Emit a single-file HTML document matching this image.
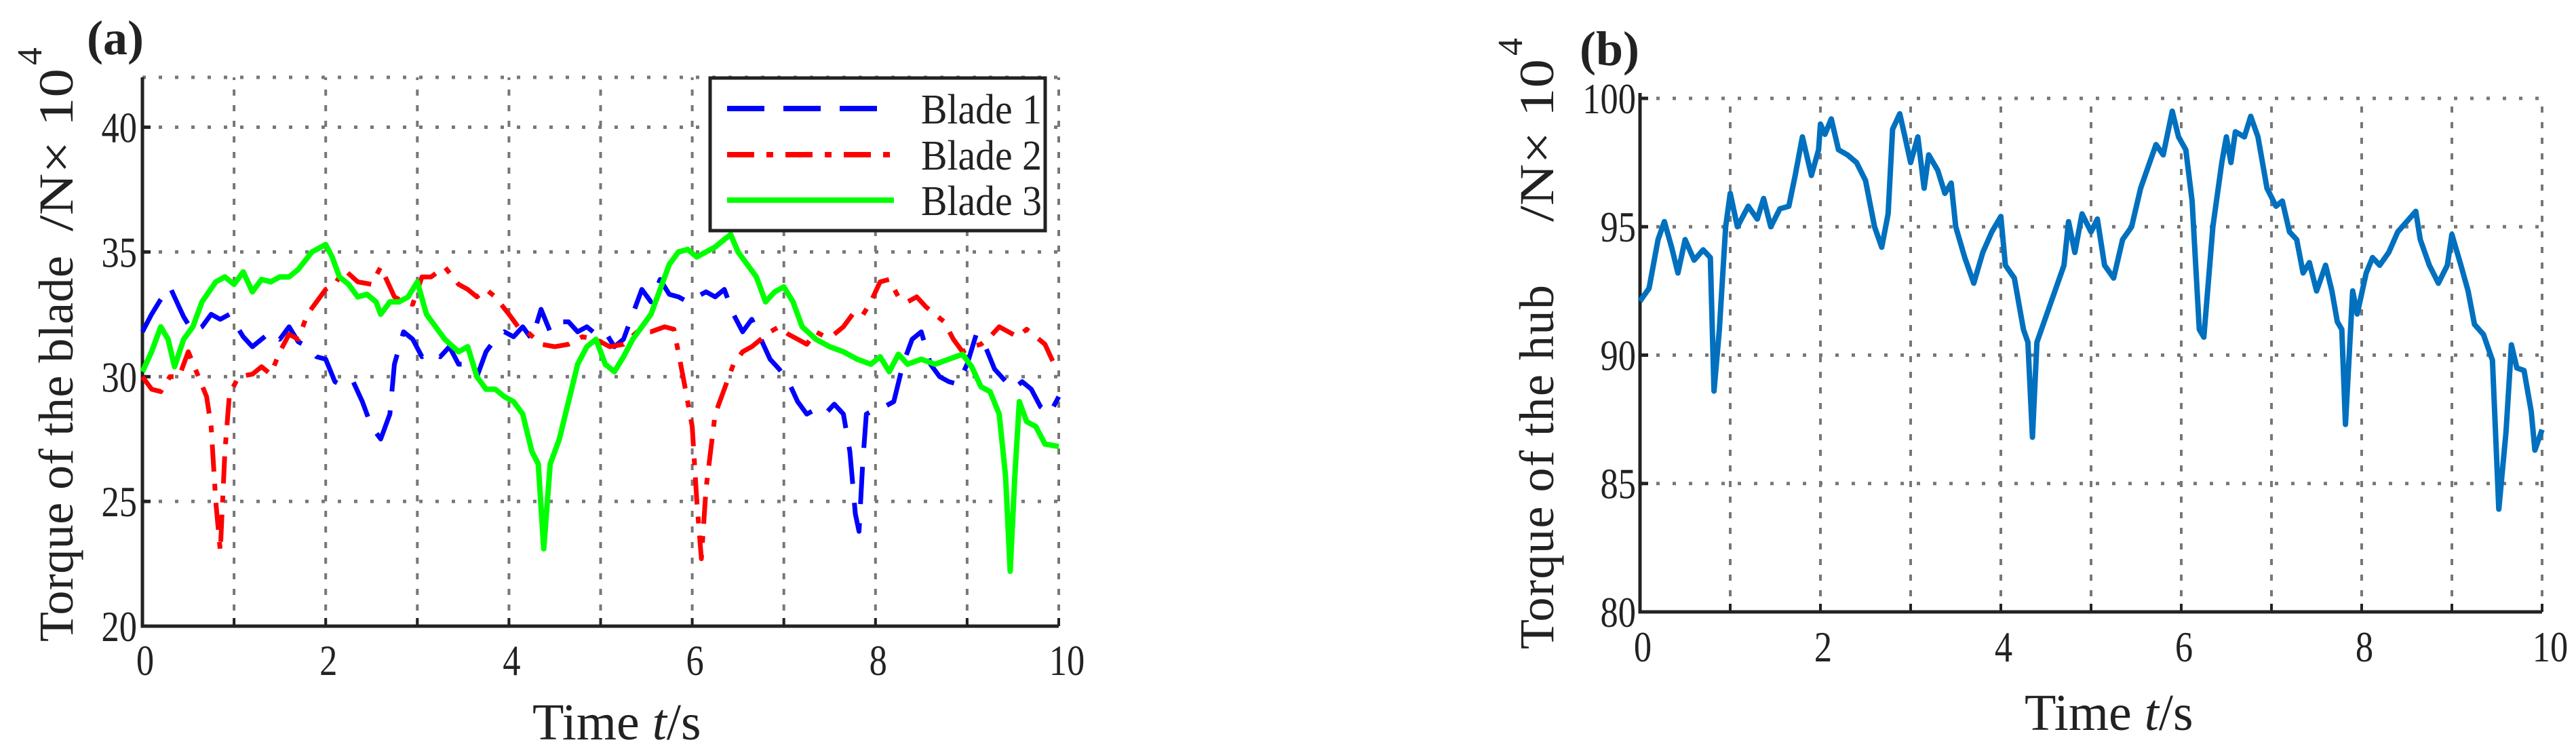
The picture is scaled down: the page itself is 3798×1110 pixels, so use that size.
<!DOCTYPE html>
<html><head><meta charset="utf-8"><style>
html,body{margin:0;padding:0;background:#fff;}
svg{display:block;}
text{font-family:"Liberation Serif",serif;fill:#222;}
</style></head><body>
<svg id="fig" width="3798" height="1110" viewBox="0 0 3798 1110" xmlns="http://www.w3.org/2000/svg">
<g id="panelA"></g>
<g id="panelB"></g>
</svg>
<script>
// ---- Panel (a) data ----
const tBlade1 = [0,0.1,0.2,0.3,0.4,0.45,0.55,0.65,0.75,0.85,0.95,1.1,1.2,1.3,1.4,1.5,1.6,1.7,1.8,1.9,2.0,2.1,2.2,2.3,2.4,2.5,2.6,2.7,2.75,2.85,2.95,3.05,3.15,3.25,3.35,3.45,3.55,3.65,3.75,3.85,3.95,4.05,4.15,4.25,4.35,4.45,4.55,4.65,4.75,4.85,4.95,5.05,5.15,5.25,5.35,5.45,5.55,5.65,5.75,5.85,5.95,6.05,6.15,6.25,6.35,6.45,6.55,6.65,6.75,6.85,6.95,7.05,7.15,7.25,7.35,7.45,7.55,7.65,7.72,7.78,7.82,7.86,7.9,8.0,8.1,8.2,8.3,8.4,8.5,8.6,8.7,8.8,8.9,9.0,9.1,9.2,9.3,9.4,9.5,9.6,9.7,9.8,9.9,10];
const blade1 = [31.8,32.5,33.1,33.6,32.8,32.4,31.8,32,32.5,32.3,32.5,31.6,31.2,31.5,31.8,31.5,32,31.4,31.2,30.8,30.7,29.8,29.6,29.8,29,28,27.5,28.5,30.5,31.8,31.5,30.8,31,30.8,31.2,30.5,30.5,30,31,31.5,31.8,31.6,32,31.5,32.7,31.8,32.2,32.2,31.8,32,31.7,31.8,31.2,31.5,32.5,33.5,33,33.9,33.3,33.2,33,33.2,33.4,33.2,33.5,32.5,31.8,32.3,31.5,30.7,30.3,29.8,29,28.5,28.7,28.5,28.9,28.5,27,24.5,23.8,26.5,28.5,28.7,28.8,29,30.5,31.5,31.8,30.5,30,29.8,29.7,30.5,31.7,31.2,30.3,29.9,29.5,29.8,29.5,28.8,28.5,29.2];
const tBlade2 = [0,0.1,0.2,0.3,0.4,0.5,0.6,0.7,0.75,0.8,0.85,0.9,0.95,1.05,1.2,1.3,1.4,1.5,1.6,1.7,1.8,1.9,2.0,2.1,2.2,2.35,2.5,2.6,2.75,2.85,2.95,3.05,3.15,3.3,3.45,3.55,3.65,3.75,3.85,4.0,4.1,4.2,4.35,4.5,4.65,4.8,4.95,5.1,5.25,5.4,5.55,5.7,5.8,5.9,6.0,6.05,6.1,6.15,6.25,6.35,6.45,6.55,6.65,6.75,6.85,6.95,7.05,7.15,7.25,7.35,7.45,7.55,7.65,7.75,7.85,7.95,8.05,8.15,8.25,8.35,8.45,8.55,8.65,8.75,8.85,8.95,9.05,9.15,9.25,9.35,9.45,9.55,9.65,9.75,9.85,9.95,10];
const blade2 = [30,29.5,29.4,30,30,31,30.1,29.2,28,25,23,27,29.3,30,30.1,30.4,30.1,31,31.7,31.5,32.5,33,33.5,33.7,34.3,33.8,33.7,34.4,33.2,33,32.9,34,34,34.4,33.7,33.5,33.2,33.5,33.2,32.5,32,31.8,31.3,31.2,31.3,31.6,31.5,31.2,31.3,31.8,31.8,32,31.9,30,28,25,22.7,25.5,28.5,29.5,30.5,31,31.2,31.5,31.8,32,31.7,31.5,31.3,31.8,31.6,31.7,32,32.5,32.4,33,33.8,33.9,33.2,33,33.2,32.8,32.5,32.2,31.5,31,31.2,31.3,31.6,32,31.8,31.6,31.9,31.6,31.3,30.5,30.5];
const tBlade3 = [0,0.1,0.2,0.28,0.35,0.45,0.55,0.65,0.8,0.9,1.0,1.1,1.2,1.3,1.4,1.5,1.6,1.7,1.85,1.95,2.0,2.07,2.15,2.25,2.35,2.45,2.55,2.6,2.7,2.8,2.9,3.0,3.1,3.2,3.3,3.45,3.55,3.65,3.75,3.85,3.95,4.05,4.15,4.25,4.32,4.38,4.45,4.55,4.65,4.75,4.85,4.95,5.05,5.15,5.25,5.35,5.45,5.55,5.65,5.75,5.85,5.95,6.05,6.15,6.25,6.35,6.42,6.5,6.6,6.7,6.8,6.9,7.0,7.1,7.2,7.35,7.5,7.65,7.8,7.95,8.05,8.15,8.25,8.35,8.5,8.65,8.8,8.95,9.05,9.15,9.25,9.35,9.42,9.47,9.52,9.57,9.65,9.75,9.85,10];
const blade3 = [30.2,31,32,31.5,30.4,31.5,32,33,33.8,34,33.7,34.2,33.4,33.9,33.8,34,34,34.3,35,35.2,35.3,34.8,34,33.7,33.2,33.3,33,32.5,33,33,33.2,33.8,32.5,32,31.5,31,31.2,30,29.5,29.5,29.2,29,28.5,27,26.5,23.1,26.5,27.5,29,30.5,31.2,31.5,30.5,30.2,30.8,31.5,32,32.5,33.5,34.5,35,35.1,34.8,35,35.2,35.5,35.7,35,34.5,34,33,33.4,33.6,33,32,31.5,31.2,31,30.7,30.5,30.8,30.2,30.9,30.5,30.7,30.5,30.7,30.9,30.4,29.6,29.4,28.5,26,22.2,26,29,28.2,28,27.3,27.2];
const xTicksA = [0,2,4,6,8,10];
const yTicksA = [20,25,30,35,40];
const legendLabels = ["Blade 1","Blade 2","Blade 3"];

// ---- Panel (b) data ----
const tHub = [0,0.1,0.2,0.27,0.35,0.42,0.5,0.6,0.7,0.78,0.82,0.88,0.95,1.0,1.08,1.2,1.3,1.37,1.45,1.55,1.65,1.72,1.8,1.9,1.98,2.0,2.05,2.12,2.2,2.3,2.4,2.5,2.6,2.68,2.75,2.8,2.88,2.95,3.0,3.08,3.15,3.2,3.3,3.38,3.45,3.5,3.6,3.7,3.8,3.9,4.0,4.05,4.15,4.25,4.3,4.35,4.4,4.5,4.6,4.7,4.75,4.82,4.9,5.0,5.07,5.15,5.25,5.35,5.45,5.55,5.65,5.72,5.8,5.9,5.97,6.05,6.12,6.2,6.25,6.35,6.45,6.5,6.55,6.6,6.7,6.77,6.85,6.95,7.05,7.12,7.2,7.28,7.35,7.42,7.5,7.6,7.67,7.73,7.78,7.82,7.9,7.95,8.05,8.12,8.2,8.3,8.4,8.5,8.6,8.65,8.75,8.85,8.95,9.0,9.1,9.18,9.25,9.35,9.45,9.52,9.6,9.66,9.72,9.8,9.88,9.92,10];
const hub = [92.1,92.6,94.5,95.2,94.2,93.2,94.5,93.7,94.1,93.8,88.6,91,95,96.3,95,95.8,95.3,96.1,95,95.7,95.8,97,98.5,97,98,99,98.6,99.2,98,97.8,97.5,96.8,95,94.2,95.5,98.8,99.4,98.3,97.5,98.5,96.5,97.8,97.2,96.3,96.7,95,93.8,92.8,94,94.8,95.4,93.5,93,91,90.5,86.8,90.5,91.5,92.5,93.5,95.2,94,95.5,94.8,95.3,93.5,93,94.5,95,96.5,97.5,98.2,97.8,99.5,98.5,98,96,91,90.7,95,97.5,98.5,97.5,98.7,98.5,99.3,98.5,96.5,95.8,96,94.8,94.5,93.2,93.6,92.5,93.5,92.5,91.3,91,87.3,92.5,91.6,93.2,93.8,93.5,94,94.8,95.2,95.6,94.5,93.5,92.8,93.5,94.7,93.5,92.5,91.2,90.8,89.8,84,87,90.4,89.5,89.4,87.8,86.3,87.1];
const xTicksB = [0,2,4,6,8,10];
const yTicksB = [80,85,90,95,100];

const NS = "http://www.w3.org/2000/svg";
function mk(parent, tag, attrs, txt){
  const e = document.createElementNS(NS, tag);
  for (const k in attrs) e.setAttribute(k, attrs[k]);
  if (txt !== undefined) e.textContent = txt;
  parent.appendChild(e);
  return e;
}
function pathFrom(ts, vs, sx, sy){
  let d = "";
  for (let i=0;i<ts.length;i++) d += (i?"L":"M") + sx(ts[i]).toFixed(1) + "," + sy(vs[i]).toFixed(1);
  return d;
}

// ===== Panel A =====
(function(){
  const g = document.getElementById("panelA");
  const L=210, R=1561, T=114, B=923, ymin=20, ymax=42;
  const sx = t => L + t/10*(R-L);
  const sy = v => B - (v-ymin)/(ymax-ymin)*(B-T);
  for (let t=1;t<=10;t++){
    const gl = mk(g,"line",{x1:sx(t),x2:sx(t),y1:B,y2:T,stroke:"#777","stroke-width":4,"stroke-dasharray":"9 14"});
    
    
  }
  [25,30,35,40,42].forEach(v=>{
    const gl = mk(g,"line",{x1:L,x2:R,y1:sy(v),y2:sy(v),stroke:"#777","stroke-width":5,"stroke-dasharray":"5 19"});
    
    
  });
  const ax = mk(g,"path",{d:`M${L},${T}L${L},${B}L${R},${B}`,fill:"none",stroke:"#222","stroke-width":5});
  
  
  yTicksA.forEach(v=>{
    const tk = mk(g,"line",{x1:L,x2:L+12,y1:sy(v),y2:sy(v),stroke:"#222","stroke-width":5});
    
    
    const lb = mk(g,"text",{x:L-8,y:sy(v)+22,"text-anchor":"end","font-size":64,transform:`translate(${L-8},0) scale(0.82,1) translate(${-(L-8)},0)`}, String(v));
    
    
  });
  for (let t=1;t<=10;t++){
    const tk = mk(g,"line",{x1:sx(t),x2:sx(t),y1:B,y2:B-12,stroke:"#222","stroke-width":4});
    
    
  }
  xTicksA.forEach(t=>{
    const x = sx(t)+ (t===10?12:4);
    const lb = mk(g,"text",{x:x,y:995,"text-anchor":"middle","font-size":64,transform:`translate(${x},0) scale(0.82,1) translate(${-x},0)`}, String(t));
    
    
  });
  const s1 = mk(g,"path",{d:pathFrom(tBlade1,blade1,sx,sy),fill:"none",stroke:"#0000ff","stroke-width":7,"stroke-dasharray":"55 28","stroke-linejoin":"round"});
  
  
  const s2 = mk(g,"path",{d:pathFrom(tBlade2,blade2,sx,sy),fill:"none",stroke:"#ff0000","stroke-width":7,"stroke-dasharray":"40 18 10 18","stroke-linejoin":"round"});
  
  
  const s3 = mk(g,"path",{d:pathFrom(tBlade3,blade3,sx,sy),fill:"none",stroke:"#00ff00","stroke-width":8,"stroke-linejoin":"round"});
  
  
  const lg = mk(g,"g",{});
  
  
  mk(lg,"rect",{x:1047,y:115,width:494,height:225,fill:"#fff",stroke:"#222","stroke-width":5});
  const cols=["#0000ff","#ff0000","#00ff00"], dashes=["55 28","40 18 10 18","none"], ys=[160,228,295];
  legendLabels.forEach((lab,i)=>{
    const e = mk(lg,"g",{});
    
    
    mk(e,"line",{x1:1072,x2:1318,y1:ys[i],y2:ys[i],stroke:cols[i],"stroke-width":8,"stroke-dasharray":dashes[i]});
    mk(e,"text",{x:1358,y:ys[i]+22,"font-size":62,textLength:178,lengthAdjust:"spacingAndGlyphs"},lab);
  });
  const pa = mk(g,"text",{x:128,y:80,"font-size":72,"font-weight":"bold"},"(a)");
  
  
  const xl = mk(g,"text",{x:785,y:1090,"font-size":76},"Time ");
  
  
  mk(xl,"tspan",{"font-style":"italic"},"t");
  mk(xl,"tspan",{},"/s");
  const yl = mk(g,"text",{transform:"translate(107,946) rotate(-90)","font-size":72,"font-family":"'Liberation Sans',sans-serif"});
  
  
  mk(yl,"tspan",{x:0,y:0,textLength:569,lengthAdjust:"spacing"},"Torque of the blade");
  mk(yl,"tspan",{x:605,y:0,textLength:240,lengthAdjust:"spacingAndGlyphs"},"/N× 10");
  mk(yl,"tspan",{x:850,y:-46,"font-size":52},"4");
})();

// ===== Panel B =====
(function(){
  const g = document.getElementById("panelB");
  const L=2418, R=3748, T=145, B=902, ymin=80, ymax=100;
  const sx = t => L + t/10*(R-L);
  const sy = v => B - (v-ymin)/(ymax-ymin)*(B-T);
  for (let t=1;t<=10;t++){
    const gl = mk(g,"line",{x1:sx(t),x2:sx(t),y1:B,y2:T,stroke:"#777","stroke-width":4,"stroke-dasharray":"9 14"});
    
    
  }
  [85,90,95,100].forEach(v=>{
    const gl = mk(g,"line",{x1:L,x2:R,y1:sy(v),y2:sy(v),stroke:"#777","stroke-width":5,"stroke-dasharray":"5 19"});
    
    
  });
  const ax = mk(g,"path",{d:`M${L},${T-8}L${L},${B}L${R},${B}`,fill:"none",stroke:"#222","stroke-width":5});
  
  
  yTicksB.forEach(v=>{
    const tk = mk(g,"line",{x1:L,x2:L+12,y1:sy(v),y2:sy(v),stroke:"#222","stroke-width":5});
    
    
    const lb = mk(g,"text",{x:L-6,y:sy(v)+22,"text-anchor":"end","font-size":64,transform:`translate(${L-6},0) scale(0.82,1) translate(${-(L-6)},0)`}, String(v));
    
    
  });
  for (let t=1;t<=10;t++){
    const tk = mk(g,"line",{x1:sx(t),x2:sx(t),y1:B,y2:B-12,stroke:"#222","stroke-width":4});
    
    
  }
  xTicksB.forEach(t=>{
    const x = sx(t)+(t===10?12:4);
    const lb = mk(g,"text",{x:x,y:975,"text-anchor":"middle","font-size":64,transform:`translate(${x},0) scale(0.82,1) translate(${-x},0)`}, String(t));
    
    
  });
  const s = mk(g,"path",{d:pathFrom(tHub,hub,sx,sy),fill:"none",stroke:"#0070bf","stroke-width":8,"stroke-linejoin":"round"});
  
  
  const pb = mk(g,"text",{x:2329,y:96,"font-size":72,"font-weight":"bold"},"(b)");
  
  
  const xl = mk(g,"text",{x:2985,y:1076,"font-size":76},"Time ");
  
  
  mk(xl,"tspan",{"font-style":"italic"},"t");
  mk(xl,"tspan",{},"/s");
  const yl = mk(g,"text",{transform:"translate(2290,957) rotate(-90)","font-size":72,"font-family":"'Liberation Sans',sans-serif"});
  
  
  mk(yl,"tspan",{x:0,y:0,textLength:537,lengthAdjust:"spacing"},"Torque of the hub");
  mk(yl,"tspan",{x:630,y:0,textLength:240,lengthAdjust:"spacingAndGlyphs"},"/N× 10");
  mk(yl,"tspan",{x:875,y:-46,"font-size":52},"4");
})();
</script>
</body></html>
